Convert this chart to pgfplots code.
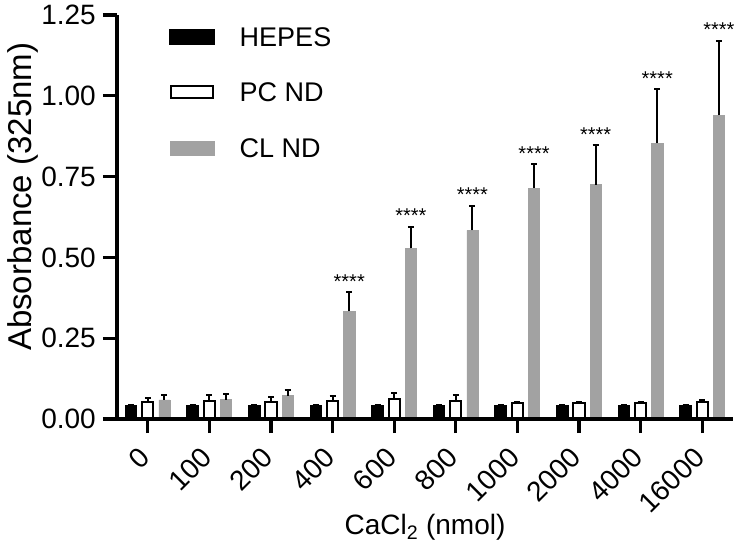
\documentclass[border=0pt]{standalone}
\usepackage{pgfplots}
\pgfplotsset{compat=1.18}
\usepackage{fontspec}
\setmainfont{Liberation Sans}
\definecolor{clgray}{HTML}{A2A2A2}
\newcommand\tk{\fontsize{28}{32}\selectfont}
\newcommand\lb{\fontsize{28}{32}\selectfont}

\begin{document}
\begin{tikzpicture}
\useasboundingbox (-117pt,-124pt) rectangle (618pt,419pt);
\begin{axis}[
    scale only axis,
    width=616pt, height=404pt,
    xmin=-0.5, xmax=9.5,
    ymin=0, ymax=1.25,
    axis x line=bottom, axis y line=left,
    axis line style={line width=3.3pt, -},
    axis on top, clip=false,
    tick align=outside,
    major tick length=14pt,
    tick style={line width=3.3pt, black},
    xtick={0,...,9},
    xticklabels={0,100,200,400,600,800,1000,2000,4000,16000},
    ytick={0,0.25,0.5,0.75,1,1.25},
    /pgf/number format/assume math mode=true,
    yticklabel style={/pgf/number format/fixed, /pgf/number format/fixed zerofill,
        /pgf/number format/precision=2, font=\tk, inner sep=0pt, xshift=-7pt},
    xticklabel style={font=\tk, inner sep=0pt, xshift=-10pt, yshift=-12pt, rotate=45, anchor=north east},
    xlabel={CaCl\textsubscript{2} (nmol)},
    ylabel={Absorbance (325nm)},
    xlabel style={font=\lb, at={(axis description cs:0.5,0)}, anchor=base, yshift=-115pt},
    ylabel style={font=\fontsize{33}{36}\selectfont, at={(axis description cs:-0.1396,0.55)}, anchor=base},
    legend style={draw=none, fill=none, anchor=north west, at={(0.0796,0.975)},
        font=\fontsize{27}{30}\selectfont, row sep=36.5pt, column sep=25pt,
        nodes={inner sep=0pt, text height=19pt, text depth=0pt}},
    legend cell align=left,
    error bars/error bar style={line width=2pt, black},
    error bars/error mark options={rotate=90, line width=2pt, mark size=3pt, black},
]

% HEPES (left bar of each group)
\addplot[ybar, bar width=0.18, bar shift=0, fill=black, draw=black, line width=1.5pt,
    error bars/.cd, y dir=plus, y explicit,
    /pgfplots/legend image code/.code={\draw[fill=black, draw=black] (0pt,-7pt) rectangle (44pt,7pt);}]
coordinates {
    (-0.27,0.040) +- (0,0.004) (0.73,0.040) +- (0,0.004) (1.73,0.040) +- (0,0.004)
    (2.73,0.040) +- (0,0.004) (3.73,0.040) +- (0,0.004) (4.73,0.040) +- (0,0.004)
    (5.73,0.040) +- (0,0.004) (6.73,0.040) +- (0,0.004) (7.73,0.040) +- (0,0.004)
    (8.73,0.040) +- (0,0.004)
};
\addlegendentry{HEPES}

% PC ND (middle bar)
\addplot[ybar, bar width=0.18, bar shift=0, fill=white, draw=black, line width=2pt,
    error bars/.cd, y dir=plus, y explicit,
    /pgfplots/legend image code/.code={\draw[fill=white, draw=black, line width=2pt] (1pt,-6pt) rectangle (43pt,6pt);}]
coordinates {
    (0,0.052) +- (0,0.012) (1,0.055) +- (0,0.018) (2,0.053) +- (0,0.014)
    (3,0.057) +- (0,0.014) (4,0.062) +- (0,0.020) (5,0.057) +- (0,0.018)
    (6,0.050) +- (0,0.004) (7,0.050) +- (0,0.004) (8,0.050) +- (0,0.004)
    (9,0.054) +- (0,0.006)
};
\addlegendentry{PC ND}

% CL ND (right bar)
\addplot[ybar, bar width=0.18, bar shift=0, fill=clgray, draw=clgray, line width=0.5pt,
    error bars/.cd, y dir=plus, y explicit,
    /pgfplots/legend image code/.code={\draw[fill=clgray, draw=clgray] (0pt,-7pt) rectangle (44pt,7pt);}]
coordinates {
    (0.27,0.059) +- (0,0.015) (1.27,0.060) +- (0,0.016) (2.27,0.072) +- (0,0.017)
    (3.27,0.333) +- (0,0.059) (4.27,0.528) +- (0,0.066) (5.27,0.584) +- (0,0.076)
    (6.27,0.714) +- (0,0.074) (7.27,0.725) +- (0,0.122) (8.27,0.853) +- (0,0.167)
    (9.27,0.940) +- (0,0.231)
};
\addlegendentry{CL ND}

% significance marks above the CL ND error bars
\addplot[draw=none, mark=none, forget plot,
    nodes near coords={****},
    every node near coord/.append style={font=\fontsize{20}{20}\selectfont,
        anchor=south, inner sep=0pt, yshift=4pt}]
coordinates {
    (3.27,0.392) (4.27,0.594) (5.27,0.660) (6.27,0.788)
    (7.27,0.847) (8.27,1.020) (9.27,1.171)
};
\end{axis}
\end{tikzpicture}
\end{document}
